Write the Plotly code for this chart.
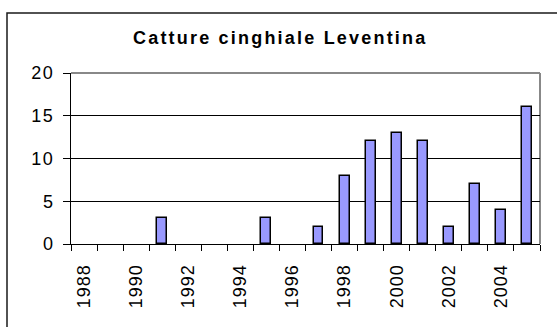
import plotly.graph_objects as go

# Annual wild boar catches, Leventina
years = list(range(1988, 2006))
catches = [0, 0, 0, 3, 0, 0, 0, 3, 0, 2, 8, 12, 13, 12, 2, 7, 4, 16]

label_years = list(range(1988, 2006, 2))
y_ticks = [0, 5, 10, 15, 20]

FONT = "Liberation Sans, Arial, sans-serif"


def spaced(text, px):
    return f'<span style="letter-spacing:{px}px">{text}</span>'


# plot-area geometry in pixels (used to place the outer frame and title)
W, H = 557, 327
L, R, T, B = 71, 17, 73, 83
pw, ph = W - L - R, H - T - B


def px_x(x):
    return (x - L) / pw


def px_y(y):
    return (H - B - y) / ph


# empty years get no bar at all
bar_values = [v if v else None for v in catches]

fig = go.Figure(
    go.Bar(
        x=years,
        y=bar_values,
        width=0.38,
        marker=dict(color="#9999FF", line=dict(color="black", width=1.5)),
    )
)

fig.update_layout(
    width=W,
    height=H,
    margin=dict(l=L, r=R, t=T, b=B),
    paper_bgcolor="white",
    plot_bgcolor="white",
    showlegend=False,
    font=dict(family=FONT, color="black", size=18),
    bargap=0,
)

fig.update_xaxes(
    type="linear",
    range=[1987.5, 2005.5],
    tickvals=label_years,
    ticktext=[spaced(str(y), 1) for y in label_years],
    tickangle=-90,
    ticks="",
    ticklabelstandoff=12,
    tickfont=dict(size=18),
    minor=dict(ticks="outside", tick0=1987.5, dtick=1, ticklen=6, tickcolor="black", tickwidth=1, showgrid=False),
    showgrid=False,
    showline=True,
    linecolor="black",
    linewidth=1,
    zeroline=False,
)

fig.update_yaxes(
    range=[0, 20],
    tickvals=y_ticks,
    ticktext=[spaced(str(v), 1.5) for v in y_ticks],
    ticks="outside",
    ticklen=7,
    tickcolor="black",
    ticklabelstandoff=5,
    tickfont=dict(size=18),
    showgrid=True,
    gridcolor="black",
    gridwidth=1,
    showline=True,
    linecolor="black",
    linewidth=1,
    zeroline=False,
)

shapes = [
    # gray plot-area frame (top and right)
    dict(type="line", xref="paper", yref="paper", x0=0, x1=1, y0=1, y1=1,
         line=dict(color="#888888", width=2), layer="below"),
    dict(type="line", xref="paper", yref="paper", x0=1, x1=1, y0=0, y1=1,
         line=dict(color="#888888", width=2), layer="below"),
    # outer chart frame
    dict(type="rect", xref="paper", yref="paper",
         x0=px_x(7), x1=px_x(565), y0=px_y(13), y1=px_y(340),
         line=dict(color="#1a1a1a", width=1.5), fillcolor="rgba(0,0,0,0)"),
]
fig.update_layout(shapes=shapes)

fig.add_annotation(
    text=spaced("Catture cinghiale Leventina", 2.2),
    xref="paper", yref="paper",
    x=px_x(280), y=px_y(38),
    xanchor="center", yanchor="middle",
    showarrow=False,
    font=dict(family=FONT, size=18, color="black", weight="bold"),
)

fig.write_html("out.html")
